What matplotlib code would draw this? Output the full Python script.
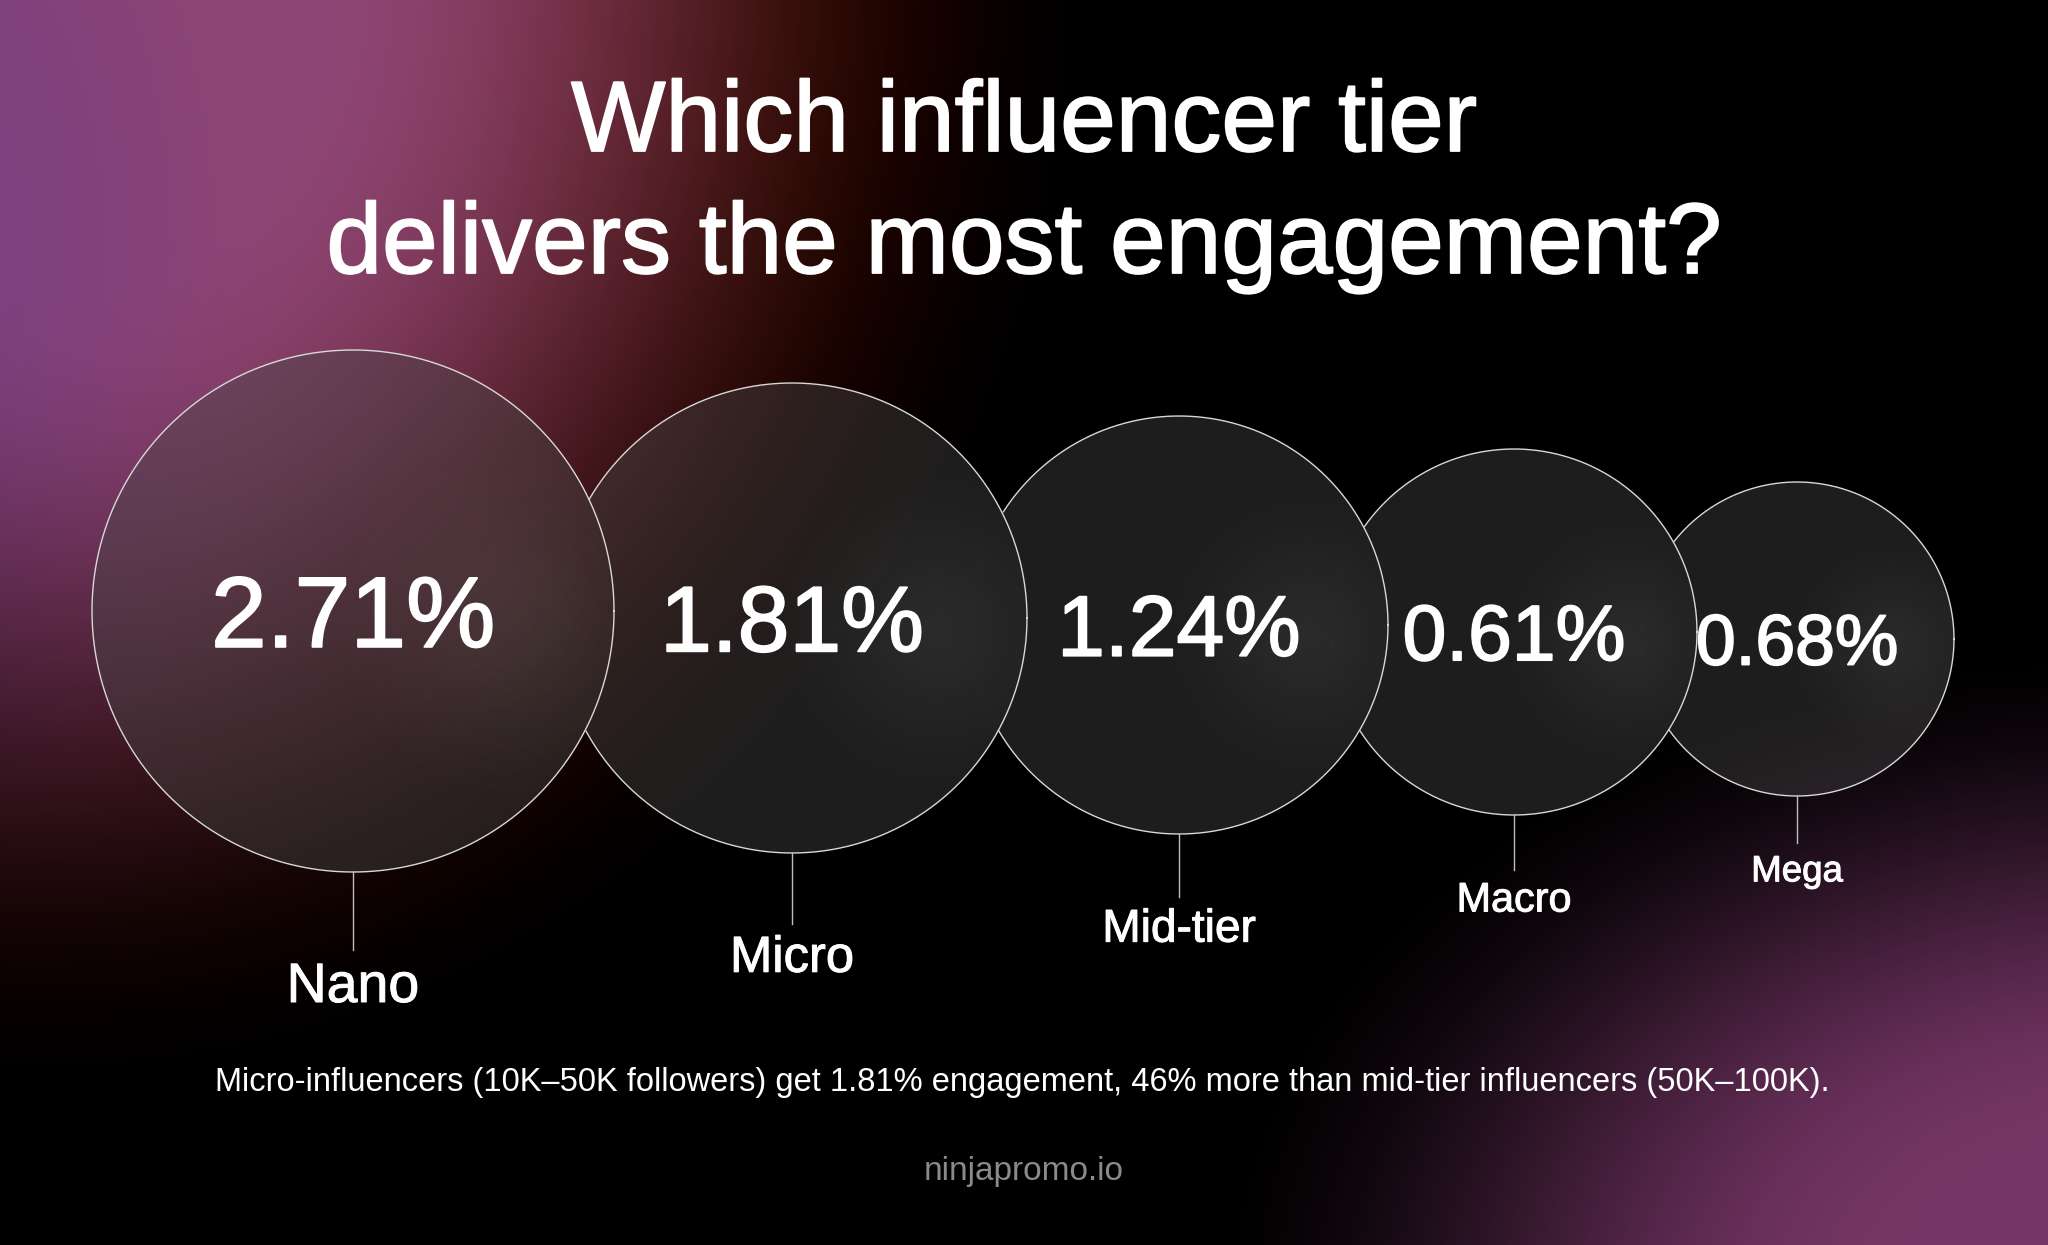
import matplotlib
matplotlib.use("Agg")
import matplotlib.pyplot as plt
import matplotlib.patheffects as pe
import numpy as np
from matplotlib.patches import Circle, PathPatch
from matplotlib.path import Path

# Canvas in pixels
W, H = 2048, 1245
DPI = 100

# Data
tiers = ["Nano", "Micro", "Mid-tier", "Macro", "Mega"]
engagement = [2.71, 1.81, 1.24, 0.61, 0.68]

title_lines = ["Which influencer tier", "delivers the most engagement?"]
note = ("Micro-influencers (10K\u201350K followers) get 1.81% engagement, "
        "46% more than mid-tier influencers (50K\u2013100K).")
source = "ninjapromo.io"

FONT = ["Liberation Sans", "DejaVu Sans"]
WHITE = "#ffffff"
EDGE = "#d8d8d8"
GREY = "#8a8a8a"
# slightly heavier strokes than the regular face
BOLDEN = [pe.withStroke(linewidth=1.3, foreground=WHITE)]


def smoothstep(a, b, v):
    t = np.clip((v - a) / (b - a), 0, 1)
    return t * t * (3 - 2 * t)


def background():
    yy, xx = np.mgrid[0:H, 0:W].astype(float)
    img = np.zeros((H, W, 3))
    # top-left magenta glow, blue fades first so the rim turns reddish
    col = np.array([0.55, 0.27, 0.46])
    for ch, (sx, sy) in enumerate([(1080, 1150), (960, 1080), (880, 1050)]):
        r = np.sqrt(((xx - 40) / sx) ** 2 + ((yy + 30) / sy) ** 2)
        img[..., ch] += col[ch] * (1 - smoothstep(0.3, 1.0, r))
    # purple tint on far left
    r = np.sqrt(((xx + 150) / 450) ** 2 + ((yy - 250) / 700) ** 2)
    img += np.array([-0.06, -0.02, 0.04]) * (1 - smoothstep(0.2, 1.0, r))[..., None]
    # bottom-right purple glow
    col2 = np.array([0.46, 0.21, 0.40])
    r = np.sqrt(((xx - W - 80) / 950) ** 2 + ((yy - H - 60) / 680) ** 2)
    img += col2 * (1 - smoothstep(0.25, 1.0, r))[..., None]
    return np.clip(img, 0, 1)


def circle_poly(c, r, n=720, reverse=False):
    t = np.linspace(0, 2 * np.pi, n)
    if reverse:
        t = t[::-1]
    return np.column_stack([c[0] + r * np.cos(t), c[1] + r * np.sin(t)])


def sheen(n=200):
    # soft light near the right rim of a bubble
    gy, gx = np.mgrid[-1:1:n * 1j, -1:1:n * 1j]
    d = np.hypot(gx - 0.62, gy - 0.05)
    rgba = np.ones((n, n, 4))
    rgba[..., 3] = 0.06 * np.exp(-(d / 0.45) ** 2)
    return rgba


fig = plt.figure(figsize=(W / DPI, H / DPI), dpi=DPI)
ax = fig.add_axes([0, 0, 1, 1])
ax.set_xlim(0, W)
ax.set_ylim(H, 0)
ax.axis("off")
ax.imshow(background(), extent=(0, W, H, 0), zorder=0, interpolation="bilinear")

# layout: bubbles shrink by rank and overlap slightly
radii = [261 - 26 * i for i in range(len(tiers))]
centers = []
x = 92 + radii[0]
for i, r in enumerate(radii):
    if i > 0:
        x = x + radii[i - 1] + r - 57
    centers.append((x, 350 + 33 * i + r))

for i, (name, val) in enumerate(zip(tiers, engagement)):
    c, r = centers[i], radii[i]
    outer = circle_poly(c, r)
    if i > 0:
        hole = circle_poly(centers[i - 1], radii[i - 1], reverse=True)
        verts = np.vstack([outer, hole])
        codes = ([Path.MOVETO] + [Path.LINETO] * (len(outer) - 1) +
                 [Path.MOVETO] + [Path.LINETO] * (len(hole) - 1))
    else:
        verts = outer
        codes = [Path.MOVETO] + [Path.LINETO] * (len(outer) - 1)
    fill = PathPatch(Path(verts, codes), facecolor=(0.28, 0.28, 0.28, 0.42),
                     edgecolor="none", zorder=2)
    ax.add_patch(fill)
    fill.set_clip_path(Circle(c, r, transform=ax.transData))

    im = ax.imshow(sheen(), extent=(c[0] - r, c[0] + r, c[1] + r, c[1] - r),
                   zorder=2.5, interpolation="bilinear")
    im.set_clip_path(fill)

    # outline, hidden where the previous bubble sits on top
    xs, ys = outer[:, 0].copy(), outer[:, 1].copy()
    if i > 0:
        pc, pr = centers[i - 1], radii[i - 1]
        inside = np.hypot(xs - pc[0], ys - pc[1]) < pr
        xs = np.ma.masked_where(inside, xs)
        ys = np.ma.masked_where(inside, ys)
    ax.plot(xs, ys, color=EDGE, lw=1.0, zorder=3)

    # value
    fs = 0.2 * r + 20
    ax.text(c[0], c[1] + 0.716 * (fs / 0.72) / 2, f"{val:.2f}%", color=WHITE,
            fontsize=fs, family=FONT, ha="center", va="baseline", zorder=4,
            path_effects=BOLDEN)

    # leader line and tier label
    y0 = c[1] + r
    y1 = y0 + 0.30 * r
    ax.plot([c[0], c[0]], [y0, y1], color="#bdbdbd", lw=1.0, zorder=3)
    lfs = 0.13 * r + 6
    ax.text(c[0], y1 + 12 + 0.716 * (lfs / 0.72), name, color=WHITE,
            fontsize=lfs, family=FONT, ha="center", va="baseline", zorder=4,
            path_effects=[pe.withStroke(linewidth=0.7, foreground=WHITE)])

# title
for line, yb in zip(title_lines, [151, 273]):
    ax.text(W / 2, yb, line, color=WHITE, fontsize=72, family=FONT,
            ha="center", va="baseline", zorder=4, path_effects=BOLDEN)

ax.text(W / 2 - 2, 1091, note, color=WHITE, fontsize=23.5, family=FONT,
        ha="center", va="baseline", zorder=4)
ax.text(W / 2, 1180, source, color=GREY, fontsize=24, family=FONT,
        ha="center", va="baseline", zorder=4)

fig.savefig("out.png", dpi=DPI, facecolor="black")
